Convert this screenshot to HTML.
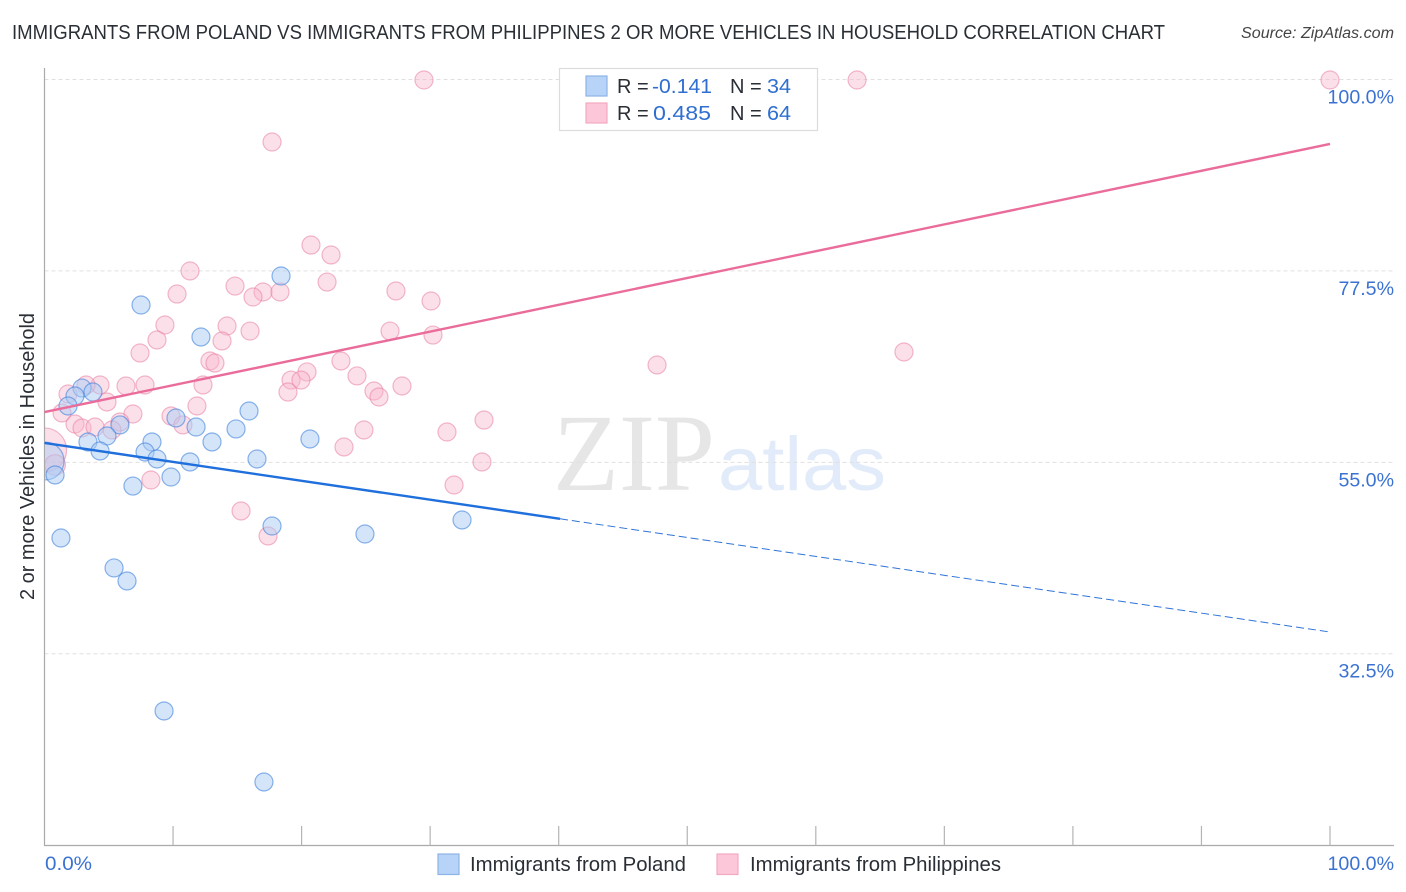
<!DOCTYPE html>
<html lang="en">
<head>
<meta charset="utf-8">
<title>Immigrants from Poland vs Immigrants from Philippines correlation chart</title>
<style>
html,body{margin:0;padding:0;background:#fff;width:1406px;height:892px;overflow:hidden}
svg{display:block;font-family:"Liberation Sans",sans-serif}
</style>
</head>
<body>
<svg id="chart" width="1406" height="892" viewBox="0 0 1406 892" xmlns="http://www.w3.org/2000/svg">
  <defs>
    <clipPath id="plot-clip"><rect x="45" y="60" width="1361" height="786"/></clipPath>
  </defs>
  <text x="12" y="39" font-size="20" fill="#2a2f36" textLength="1153" lengthAdjust="spacingAndGlyphs">IMMIGRANTS FROM POLAND VS IMMIGRANTS FROM PHILIPPINES 2 OR MORE VEHICLES IN HOUSEHOLD CORRELATION CHART</text>
  <text x="1241" y="38" font-size="15.5" font-style="italic" fill="#444" textLength="153" lengthAdjust="spacingAndGlyphs">Source: ZipAtlas.com</text>

  <g id="watermark">
    <text x="553" y="490" font-family="'Liberation Serif',serif" font-size="110" fill="#e6e6e6" textLength="162" lengthAdjust="spacingAndGlyphs">ZIP</text>
    <text x="718" y="490" font-size="76" fill="#e2ebf9" textLength="168" lengthAdjust="spacingAndGlyphs">atlas</text>
  </g>

  <g id="grid"></g>
  <g id="axes"></g>
  <g id="pink-points" clip-path="url(#plot-clip)"></g>
  <g id="blue-points" clip-path="url(#plot-clip)"></g>
  <g id="trends"></g>
  <g id="tick-labels"></g>

  <text transform="translate(34,456.5) rotate(-90)" font-size="20" fill="#2a2f36" text-anchor="middle" textLength="287" lengthAdjust="spacingAndGlyphs">2 or more Vehicles in Household</text>

  <g>
    <rect x="559.5" y="68.5" width="258" height="62" fill="#fff" stroke="#dcdcdc" stroke-width="1.2"/>
    <rect x="586" y="76" width="21" height="20" fill="#b7d3f8" stroke="#8db4e6" stroke-width="1.2"/>
    <rect x="586" y="103" width="21" height="20" fill="#fcc7d8" stroke="#f2a9c0" stroke-width="1.2"/>
    <g font-size="20">
      <text x="617" y="93" fill="#2a2f36">R =</text>
      <text x="652" y="93" fill="#2f6fd0" textLength="60" lengthAdjust="spacingAndGlyphs">-0.141</text>
      <text x="730" y="93" fill="#2a2f36">N =</text>
      <text x="767" y="93" fill="#2f6fd0" textLength="24" lengthAdjust="spacingAndGlyphs">34</text>
      <text x="617" y="120" fill="#2a2f36">R =</text>
      <text x="653" y="120" fill="#2f6fd0" textLength="58" lengthAdjust="spacingAndGlyphs">0.485</text>
      <text x="730" y="120" fill="#2a2f36">N =</text>
      <text x="767" y="120" fill="#2f6fd0" textLength="24" lengthAdjust="spacingAndGlyphs">64</text>
    </g>
  </g>

  <g>
    <rect x="438" y="854" width="21" height="20.5" fill="#b7d3f8" stroke="#8db4e6" stroke-width="1.2"/>
    <text x="470" y="871" font-size="20" fill="#2a2f36" textLength="216" lengthAdjust="spacingAndGlyphs">Immigrants from Poland</text>
    <rect x="717" y="854" width="21" height="20.5" fill="#fcc7d8" stroke="#f2a9c0" stroke-width="1.2"/>
    <text x="750" y="871" font-size="20" fill="#2a2f36" textLength="251" lengthAdjust="spacingAndGlyphs">Immigrants from Philippines</text>
  </g>
</svg>
<script>
const polandX = [7.51,18.40,12.17,2.92,3.77,2.37,1.83,15.91,10.23,11.79,5.87,14.90,4.86,3.38,8.36,13.03,20.65,4.32,7.82,8.75,16.53,11.32,0.05,0.82,9.84,6.88,32.48,17.70,24.93,1.28,5.41,6.42,9.30,17.07];
const polandY = [73.55,76.96,69.79,63.79,63.32,62.85,61.68,61.09,60.27,59.21,59.45,58.98,58.15,57.45,57.45,57.45,57.80,56.39,56.27,55.45,55.45,55.10,55.21,53.57,53.33,52.27,48.28,47.57,46.63,46.16,42.64,41.11,25.83,17.48];
const polandWeight = [1,1,1,1,1,1,1,1,1,1,1,1,1,1,1,1,1,1,1,1,1,1,2.1,1,1,1,1,1,1,1,1,1,1,1];
const philippinesX = [29.52,63.21,100,17.70,20.73,22.29,11.32,21.98,14.82,10.31,17.00,18.32,16.22,27.34,30.07,9.37,14.20,15.99,26.88,30.22,8.75,13.81,7.43,66.86,12.87,13.26,23.06,47.65,24.31,20.42,19.18,19.95,4.32,6.34,7.82,12.33,18.94,25.63,26.02,27.81,1.83,3.23,4.86,11.86,1.36,6.88,9.84,5.87,10.77,2.37,2.92,3.93,5.25,24.85,31.31,34.19,23.30,34.03,31.86,8.28,15.29,17.39,0,0.82];
const philippinesY = [100,100,100,92.71,80.60,79.43,77.55,76.25,75.78,74.84,75.08,75.08,74.49,75.20,74.02,71.20,71.08,70.49,70.49,70.02,69.44,69.32,67.91,68.03,66.97,66.73,66.97,66.50,65.21,65.68,64.73,64.73,64.15,64.03,64.15,64.15,63.32,63.44,62.74,64.03,63.09,64.15,62.15,61.68,60.86,60.74,60.50,59.80,59.45,59.56,59.09,59.21,58.86,58.86,58.62,60.03,56.86,55.10,52.39,52.98,49.34,46.40,56.51,54.74];
const philippinesWeight = [1,1,1,1,1,1,1,1,1,1,1,1,1,1,1,1,1,1,1,1,1,1,1,1,1,1,1,1,1,1,1,1,1,1,1,1,1,1,1,1,1,1,1,1,1,1,1,1,1,1,1,1,1,1,1,1,1,1,1,1,1,1,2.45,1.15];
const polandTrendX = [0,40.1,100];
const polandTrendY = [57.33,48.42,35.11];
const philippinesTrendX = [0,100];
const philippinesTrendY = [60.97,92.48];
const yTickValues = [100,77.5,55,32.5];
const yTickLabels = ["100.0%","77.5%","55.0%","32.5%"];
const xTickValues = [0,10,20,30,40,50,60,70,80,90,100];
const xEndLabels = ["0.0%","100.0%"];

const NS = "http://www.w3.org/2000/svg";
const sx = v => 44.5 + v * 12.855;
const sy = v => 80 + (100 - v) * 8.507;
const R = 9;

function make(parent, tag, attrs) {
  const el = document.createElementNS(NS, tag);
  for (const k in attrs) el.setAttribute(k, attrs[k]);
  document.getElementById(parent).appendChild(el);
  return el;
}

yTickValues.forEach(function (v, i) {
  const line = make("grid", "line", {x1: 44.5, x2: 1394, y1: sy(v) - 0.5, y2: sy(v) - 0.5, stroke: "#e0e0e0", "stroke-width": 1, "stroke-dasharray": "4 3"});
  
  
  const label = make("tick-labels", "text", {x: 1394, y: sy(v) + 23.5, "font-size": 19.6, fill: "#3b72d2", "text-anchor": "end"});
  label.textContent = yTickLabels[i];
  
  
});

const yAxis = make("axes", "line", {x1: 44.5, x2: 44.5, y1: 68, y2: 845.5, stroke: "#aaaaaa", "stroke-width": 1.2});


const xAxis = make("axes", "line", {x1: 44, x2: 1394, y1: 845.5, y2: 845.5, stroke: "#aaaaaa", "stroke-width": 1.2});



xTickValues.slice(1).forEach(function (v) {
  const tick = make("axes", "line", {x1: sx(v), x2: sx(v), y1: 826, y2: 845.5, stroke: "#b4b4b4", "stroke-width": 1.2});
  
  
});

const xLabelLeft = make("tick-labels", "text", {x: 45, y: 870, "font-size": 19.6, fill: "#3b72d2", textLength: 47, lengthAdjust: "spacingAndGlyphs"});
xLabelLeft.textContent = xEndLabels[0];


const xLabelRight = make("tick-labels", "text", {x: 1394, y: 870, "font-size": 19.6, fill: "#3b72d2", "text-anchor": "end"});
xLabelRight.textContent = xEndLabels[1];



philippinesX.forEach(function (x, i) {
  const c = make("pink-points", "circle", {cx: sx(x), cy: sy(philippinesY[i]), r: R * philippinesWeight[i], fill: "#f9b6cb", "fill-opacity": 0.42, stroke: "#e77fa3", "stroke-opacity": 0.55, "stroke-width": 1.2});
  
  
});

polandX.forEach(function (x, i) {
  const c = make("blue-points", "circle", {cx: sx(x), cy: sy(polandY[i]), r: R * polandWeight[i], fill: "#a9cbf5", "fill-opacity": 0.5, stroke: "#3f82dc", "stroke-opacity": 0.6, "stroke-width": 1.2});
  
  
});

const blueSolid = make("trends", "line", {x1: sx(polandTrendX[0]), y1: sy(polandTrendY[0]), x2: sx(polandTrendX[1]), y2: sy(polandTrendY[1]), stroke: "#1f6fdc", "stroke-width": 2.4});


const blueDash = make("trends", "line", {x1: sx(polandTrendX[1]), y1: sy(polandTrendY[1]), x2: sx(polandTrendX[2]), y2: sy(polandTrendY[2]), stroke: "#2f74d8", "stroke-width": 1, "stroke-dasharray": "8 4"});


const pinkLine = make("trends", "line", {x1: sx(philippinesTrendX[0]), y1: sy(philippinesTrendY[0]), x2: sx(philippinesTrendX[1]), y2: sy(philippinesTrendY[1]), stroke: "#ea6c9a", "stroke-width": 2.4});


</script>
</body>
</html>
